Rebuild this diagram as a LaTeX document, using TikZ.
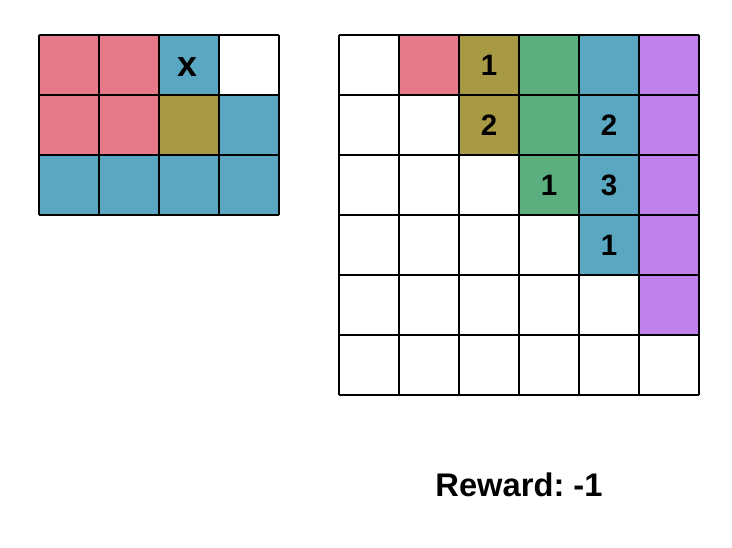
\documentclass[tikz,border=0pt]{standalone}
\usepackage{fontspec}
\setmainfont{Liberation Sans}
\definecolor{pinkc}{HTML}{E67A8A}
\definecolor{olivec}{HTML}{A89A45}
\definecolor{bluec}{HTML}{5AA7C2}
\definecolor{greenc}{HTML}{5BAF7E}
\definecolor{purplec}{HTML}{C17FEC}
\begin{document}
\begin{tikzpicture}[x=1cm, y=-1cm, line width=1pt,
    lbl/.style={font=\bfseries\fontsize{14}{14}\selectfont}]
    \useasboundingbox (0,0) rectangle (12.2, 9.1333);

    % left board
    \begin{scope}[shift={(0.65,0.5833)}]
    \fill[pinkc] (0,0) rectangle (2,2);
    \fill[bluec] (2,0) rectangle (3,1);
    \fill[olivec] (2,1) rectangle (3,2);
    \fill[bluec] (3,1) rectangle (4,2);
    \fill[bluec] (0,2) rectangle (4,3);
    \draw (0,0) grid (4,3);
    \node[lbl, font=\bfseries\fontsize{17}{17}\selectfont] (lx) at (2.47, 0.54) {x};
    \end{scope}

    % right board
    \begin{scope}[shift={(5.65,0.5833)}]
    \fill[pinkc] (1,0) rectangle (2,1);
    \fill[olivec] (2,0) rectangle (3,2);
    \fill[greenc] (3,0) rectangle (4,3);
    \fill[bluec] (4,0) rectangle (5,4);
    \fill[purplec] (5,0) rectangle (6,5);
    \draw (0,0) grid (6,6);
    \node[lbl] (r02) at (2.5, 0.5) {1};
    \node[lbl] (r12) at (2.5, 1.5) {2};
    \node[lbl] (r14) at (4.5, 1.5) {2};
    \node[lbl] (r23) at (3.5, 2.5) {1};
    \node[lbl] (r24) at (4.5, 2.5) {3};
    \node[lbl] (r34) at (4.5, 3.5) {1};
    \end{scope}

    \node[lbl, font=\bfseries\fontsize{15.5}{15.5}\selectfont] (reward) at (8.65, 8.08) {Reward:\ -1};
\end{tikzpicture}
\end{document}
